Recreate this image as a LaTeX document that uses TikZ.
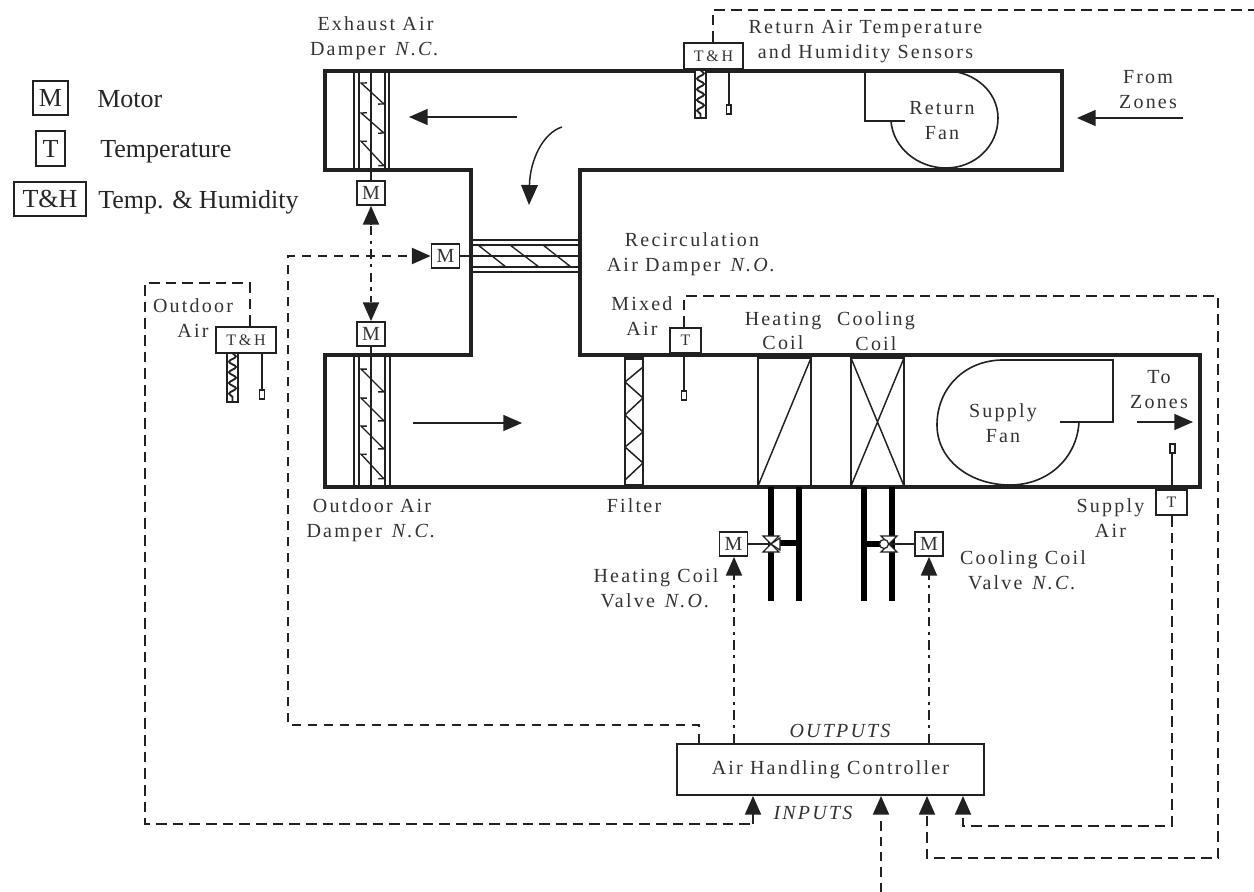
\documentclass[tikz,border=0pt]{standalone}
\usepackage{fontspec}
\setmainfont{Liberation Serif}
\newfontfamily\lab[LetterSpace=11]{Liberation Serif}
\usetikzlibrary{arrows.meta,decorations.pathmorphing}
\definecolor{ink}{gray}{0.13}
\definecolor{txt}{gray}{0.2}
\tikzset{
  duct/.style={draw=ink,line width=2.7pt,line join=miter},
  thin/.style={draw=ink,line width=1.1pt},
  med/.style={draw=ink,line width=1.5pt},
  pipe/.style={draw=black,line width=3.8pt},
  ctl/.style={draw=ink,line width=1.4pt,dash pattern=on 8pt off 4.5pt},
  ctlb/.style={draw=ink,line width=2pt,dash pattern=on 7pt off 4.5pt},
  ctld/.style={draw=ink,line width=1.4pt,dash pattern=on 7pt off 4pt on 2.5pt off 4pt},
  tip/.style={-{Triangle[length=14pt,width=12pt]}},
  mbox/.style={draw=ink,line width=1.3pt,fill=white,inner sep=0pt,minimum width=21pt,minimum height=18pt,font=\fontsize{15}{15}\selectfont,text=txt},
  tbox/.style={draw=ink,line width=1.3pt,fill=white,inner sep=0pt,minimum width=23pt,minimum height=19pt,font=\fontsize{12}{12}\selectfont,text=txt},
  thbox/.style={draw=ink,line width=1.5pt,fill=white,inner sep=0pt,minimum width=44.5pt,minimum height=19.5pt,font=\fontsize{12}{12}\lab,text=txt},
  lbl/.style={inner sep=0pt,text=txt,font=\fontsize{15}{18.7}\lab,align=center},
  leg/.style={inner sep=0pt,text=black!85,font=\fontsize{19.5}{19.5}\selectfont,anchor=base west},
  legbox/.style={draw=ink,line width=1.6pt,inner sep=0pt,text=black!85,font=\fontsize{19.5}{19.5}\selectfont},
  barb/.style={{Straight Barb[harpoon,swap,length=3pt,width=6pt]}-{Straight Barb[harpoon,swap,length=3pt,width=6pt]}},
  slat/.style={draw=ink,line width=1pt,barb},
  wavy/.style={draw=ink,line width=1.4pt,decorate,decoration={snake,amplitude=2.6pt,segment length=8pt}},
  small/.style={draw=ink,line width=1.2pt,fill=white}
}
\begin{document}
\begin{tikzpicture}[x=.75pt,y=-.75pt]
\useasboundingbox (0,0) rectangle (1254,892);

% ---- ducts
\draw[duct] (325,71) -- (1062,71) -- (1062,170) -- (580,170) -- (580,355) -- (1200,355) -- (1200,487) -- (325,487) -- (325,355) -- (471,355) -- (471,170) -- (325,170) -- cycle;

% ---- exhaust damper
\foreach \x in {354,359,371,385,389} \draw[thin] (\x,71) -- (\x,170);
\draw[slat] (360,82) -- (385,105);
\draw[slat] (360,112) -- (385,134);
\draw[slat] (360,140) -- (385,167);
% ---- outdoor damper
\foreach \x in {354,359,371,385,390} \draw[thin] (\x,355) -- (\x,487);
\draw[slat] (360,368) -- (385,393);
\draw[slat] (360,397) -- (385,422);
\draw[slat] (360,425) -- (385,450);
\draw[slat] (360,453) -- (385,480);
% ---- recirculation damper
\foreach \y in {240,245,256,267,272} \draw[thin] (471,\y) -- (580,\y);
\draw[slat] (478,245) -- (506,267);
\draw[slat] (510,245) -- (539,267);
\draw[slat] (543,245) -- (571,267);

% ---- motors
\node[mbox] (mex) at (371,193) {M};
\node[mbox] (mout) at (371,334) {M};
\node[mbox] (mrec) at (445.5,256) {M};
\node[mbox] (mhc) at (733.5,544) {M};
\node[mbox] (mcc) at (929,544) {M};
\coordinate (exd) at (371,170);
\coordinate (oud) at (371,355);
\coordinate (red) at (580,256);
\draw[thin] (mex) -- (exd);
\draw[thin] (mout) -- (oud);
\draw[thin] (mrec) -- (red);

% ---- controller
\node[draw=ink,line width=1.7pt,minimum width=230pt,minimum height=38pt,inner sep=0pt,fill=white,text=txt,font=\fontsize{15}{15}\lab] (ahc) at (830.5,769.5) {Air Handling Controller};

% ---- filter
\draw[med,line width=1.4pt] (625,357) -- (625,487) (643,357) -- (643,487);
\draw[draw=ink,line width=3pt] (625,357.5) -- (643,357.5) (625,486) -- (643,486);
\draw[thin] (643,367) -- (625,382) -- (643,398) -- (625,415) -- (643,432) -- (625,447) -- (643,463) -- (625,480);

% ---- coils
\draw[med,line width=1.3pt] (758,358) rectangle (811,486);
\draw[thin] (758,486) -- (811,358);
\draw[med,line width=1.3pt] (851,358) rectangle (904,486);
\draw[thin] (851,358) -- (904,486) (851,486) -- (904,358);

% ---- pipes
\draw[pipe] (771,487) -- (771,601) (799,487) -- (799,601);
\draw[pipe] (771,543) -- (799,543);
\draw[pipe] (864,487) -- (864,601) (892,487) -- (892,601);
\draw[pipe] (864,544) -- (890,544);
% ---- valves
\node[inner sep=0pt,minimum size=1pt] (vh) at (771,544) {};
\node[inner sep=0pt,minimum size=1pt] (vc) at (889,544) {};
\draw[thin] (mhc) -- (vh);
\draw[thin] (mcc) -- (vc);
\draw[draw=ink,line width=.9pt,fill=white] (763,536) -- (779,536) -- (763,552) -- (779,552) -- cycle;
\draw[draw=ink,line width=.9pt,fill=white] (771,544) -- (780,538) -- (780,550) -- cycle;
\draw[draw=ink,line width=.9pt,fill=white] (881,536) -- (897,536) -- (881,552) -- (897,552) -- cycle;
\draw[draw=ink,line width=.9pt,fill=white] (884,544) circle (4.5);

% ---- return fan
\draw[med,line width=1.4pt] (865,71) -- (865,121) -- (905,121);
\draw[med,line width=1.2pt] (891,121) .. controls (893,148) and (918,168) .. (946,168) .. controls (975,168) and (998,146) .. (998,118) .. controls (998,92) and (975,72) .. (948,71);
% ---- supply fan
\draw[med,line width=1.4pt] (1000,360) -- (1113,360) -- (1113,422) -- (1060,422);
\draw[med,line width=1.2pt] (1079,422) .. controls (1077,458) and (1048,485) .. (1010,485) .. controls (970,485) and (937,460) .. (937,425) .. controls (937,388) and (965,360) .. (1003,360);

% ---- flow arrows
\coordinate (f1a) at (517,117); \coordinate (f1b) at (409,117);
\draw[thin,tip] (f1a) -- (f1b);
\coordinate (f2a) at (562,127); \coordinate (f2b) at (529,205);
\draw[thin,-{Triangle[length=15pt,width=12.5pt]}] (f2a) .. controls (543,133) and (530,160) .. (f2b);
\coordinate (f3a) at (413,423); \coordinate (f3b) at (522,423);
\draw[thin,tip] (f3a) -- (f3b);
\coordinate (f4a) at (1137,422); \coordinate (f4b) at (1193,422);
\draw[thin,tip] (f4a) -- (f4b);
\coordinate (f5a) at (1183,118); \coordinate (f5b) at (1077,118);
\draw[thin,tip] (f5a) -- (f5b);

% ---- sensors
\node[thbox] (thr) at (713.5,56) {T\,\&\,H};
\node[thbox] (tho) at (246,340) {T\,\&\,H};
\node[tbox] (tmx) at (685.5,340.5) {T};
\node[tbox] (tsa) at (1171.5,502.5) {T};
% return
\draw[small] (695,70) rectangle (706,118);
\draw[wavy] (700.5,70) -- (700.5,118);
\draw[thin] (729,69) -- (729,106);
\draw[small] (726.5,105) rectangle (731,114);
% outdoor
\draw[small] (227,353) rectangle (238,402);
\draw[wavy] (232.5,353) -- (232.5,402);
\draw[thin] (262,353) -- (262,390);
\draw[small] (259.5,390) rectangle (264.5,399);
% mixed
\draw[thin] (684,355) -- (684,391);
\draw[small] (681.5,391) rectangle (686.5,400);
% supply
\draw[thin] (1172,487) -- (1172,453);
\draw[small] (1170,444) rectangle (1175,453);

% ---- control lines
\coordinate (r1) at (713,10); \coordinate (r2) at (1254,10);
\draw[ctl] (thr.north -| r1) -- (r1) -- (r2);
\coordinate (o1) at (250,283); \coordinate (o2) at (145,283); \coordinate (o3) at (145,824); \coordinate (o4) at (753,824);
\draw[ctl] (tho.north -| o1) -- (o1) -- (o2) -- (o3) -- (o4);
\draw[ctl,solid,tip] (o4) -- (o4 |- ahc.south);
\coordinate (m1) at (684,296); \coordinate (m2) at (1218,296); \coordinate (m3) at (1218,858); \coordinate (m4) at (927,858);
\draw[ctl] (tmx.north -| m1) -- (m1) -- (m2) -- (m3) -- (m4) -- (927,816);
\draw[ctl,solid,tip] (927,813) -- (m4 |- ahc.south);
\coordinate (s1) at (1172,826); \coordinate (s2) at (963,826);
\draw[ctl] (tsa.south -| s1) -- (s1) -- (s2) -- (963,816);
\draw[ctl,solid,tip] (963,813) -- (s2 |- ahc.south);
\coordinate (z1) at (881,892);
\draw[ctlb] (z1) -- (881,816);
\draw[ctl,solid,tip,line width=1.6pt] (881,813) -- (z1 |- ahc.south);
% damper command
\coordinate (d1) at (699,725); \coordinate (d2) at (288,725); \coordinate (d3) at (288,256);
\draw[ctl,dash pattern=on 7pt off 5pt] (ahc.north -| d1) -- (d1) -- (d2) -- (d3) -- (412,256);
\draw[ctl,solid,tip] (412,256) -- (mrec.west);
\draw[ctld] (371,226) -- (371,302);
\draw[ctl,solid,tip] (371,224) -- (mex.south);
\draw[ctl,solid,tip] (371,304) -- (mout.north);
% coil valve commands
\coordinate (hv) at (734,743); \coordinate (cv) at (929,743);
\draw[ctld] (ahc.north -| hv) -- (734,576);
\draw[ctl,solid,tip] (734,576) -- (mhc.south -| hv);
\draw[ctld] (ahc.north -| cv) -- (929,576);
\draw[ctl,solid,tip] (929,576) -- (mcc.south);

% ---- labels
\node[lbl] (l1) at (375.5,38) {Exhaust Air\\Damper\enspace\textit{N.C.}};
\node[lbl] (l2) at (865.5,41.5) {Return Air Temperature\\and Humidity Sensors};
\node[lbl] (l3) at (1148,89.5) {From\\Zones};
\node[lbl] (l4) at (942,120.5) {Return\\Fan};
\node[lbl] (l5) at (692,254) {Recirculation\\Air Damper\enspace\textit{N.O.}};
\node[lbl] (l6) at (193,318.5) {Outdoor\\Air};
\node[lbl] (l7) at (642,316) {Mixed\\Air};
\node[lbl] (l8) at (783,331) {Heating\\Coil};
\node[lbl] (l9) at (876,331) {Cooling\\Coil};
\node[lbl] (l10) at (1003,423.5) {Supply\\Fan};
\node[lbl] (l11) at (1159,390) {To\\Zones};
\node[lbl] (l12) at (634,506) {Filter};
\node[lbl] (l13) at (372,520) {Outdoor Air\\Damper\enspace\textit{N.C.}};
\node[lbl] (l14) at (656,588) {Heating Coil\\Valve\enspace\textit{N.O.}};
\node[lbl] (l15) at (1023,570.5) {Cooling Coil\\Valve\enspace\textit{N.C.}};
\node[lbl] (l16) at (1110.5,518.5) {Supply\\Air};
\node[lbl,font=\fontsize{15}{15}\lab\itshape] (l17) at (840,731) {OUTPUTS};
\node[lbl,font=\fontsize{15}{15}\lab\itshape] (l18) at (813,813) {INPUTS};

% ---- legend
\node[legbox,minimum width=26pt,minimum height=25.5pt] (k1) at (50.5,98) {M};
\node[legbox,minimum width=22pt,minimum height=26pt] (k2) at (50.5,148.5) {T};
\node[legbox,minimum width=54pt,minimum height=25.5pt] (k3) at (50,199) {T\&H};
\node[leg] (k1t) at (97,108) {Motor};
\node[leg] (k2t) at (100,157.5) {Temperature};
\node[leg] (k3t) at (98,208) {Temp. \& Humidity};
\end{tikzpicture}
\end{document}
